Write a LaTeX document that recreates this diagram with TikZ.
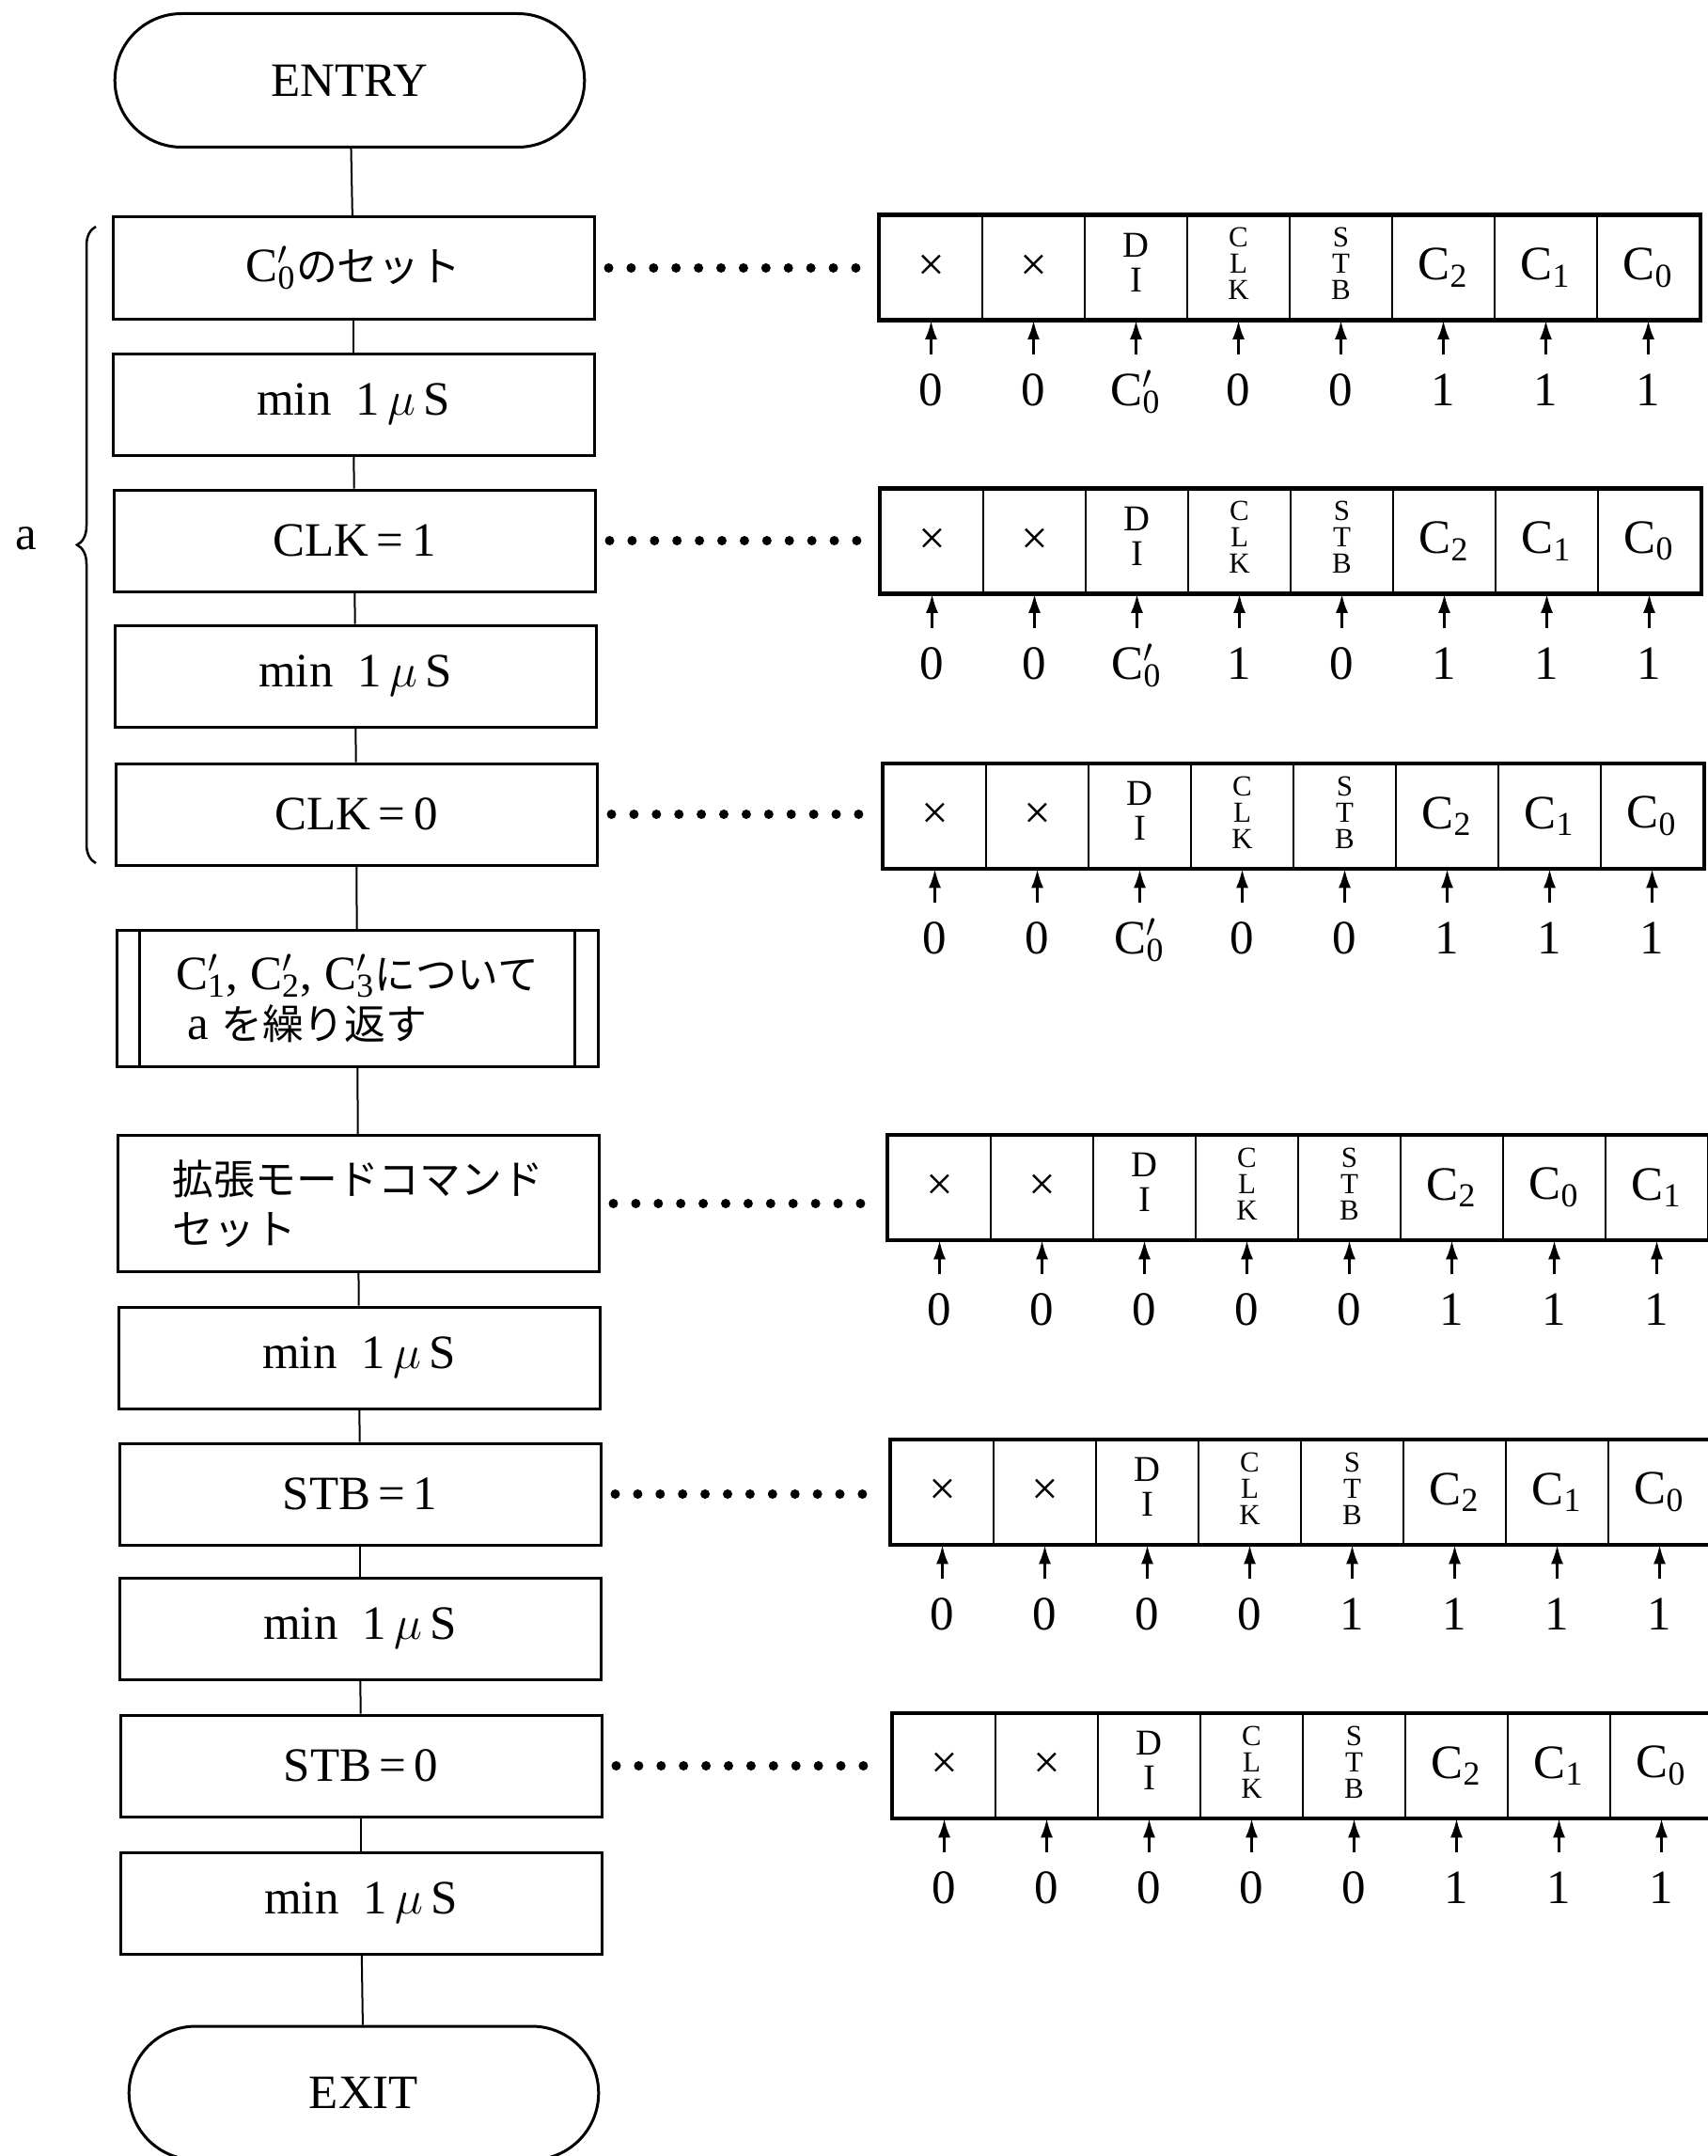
\documentclass[tikz,border=0pt]{standalone}
\usepackage{fontspec}
\setmainfont{Liberation Serif}
\newfontfamily\jpfont[Scale=0.86]{Noto Sans CJK JP}
\usetikzlibrary{arrows.meta, shapes.misc, decorations.pathreplacing, positioning}

\newcommand{\Cpr}[1]{C\rlap{$'$}\textsubscript{#1}}
\newcommand{\stacklbl}[3]{{\fontsize{#1}{#2}\selectfont\begin{tabular}{@{}c@{}}#3\end{tabular}}}
\newcommand{\DIlbl}{\stacklbl{11}{10.5}{D\\I}}
\newcommand{\CLKlbl}{\stacklbl{8.8}{7.4}{C\\L\\K}}
\newcommand{\STBlbl}{\stacklbl{8.8}{7.4}{S\\T\\B}}

\begin{document}
\begin{tikzpicture}[
    x=1mm, y=-1mm,
    every node/.style={font=\fontsize{14.5}{17}\selectfont},
    terminal/.style={draw, line width=0.3mm, rounded rectangle, minimum width=52.3mm, minimum height=14.2mm},
    process/.style={draw, line width=0.3mm, minimum width=51.2mm, minimum height=10.8mm, inner sep=1mm},
    twoline/.style={process, minimum height=14.5mm, align=left, font=\fontsize{14.5}{15}\selectfont},
    flow/.style={line width=0.2mm},
    dotline/.style={line width=1mm, line cap=round, dash pattern=on 0pt off 2.39mm, shorten <=1.4mm, shorten >=2mm},
    cell/.style={draw, line width=0.25mm, minimum width=10.9mm, minimum height=11mm, inner sep=0pt, align=center},
    val/.style={inner sep=0pt, text height=3.4mm, text depth=0pt},
    pin-arrow/.style={-{Latex[length=2mm, width=1.3mm]}, line width=0.25mm, shorten <=2mm}
]
    \useasboundingbox (0,0) rectangle (181.6,229.3);

    % Flowchart column (the scan leans a little to the right).
    \node[terminal] (entry) at (37.2,8.55) {ENTRY};
    \node[process] (b1) at (37.6,28.5) {\Cpr{0}{\jpfont のセット}};
    \node[process] (b2) at (37.6,43.0) {min\enspace 1\,$\mu$\,S};
    \node[process] (b3) at (37.7,57.5) {CLK\,=\,1};
    \node[process] (b4) at (37.8,71.9) {min\enspace 1\,$\mu$\,S};
    \node[process] (b5) at (37.9,86.6) {CLK\,=\,0};
    \node[twoline] (b6) at (38.0,106.2) {\Cpr{1}, \Cpr{2}, \Cpr{3}{\jpfont について}\\\ a {\jpfont を繰り返す}};
    \draw[line width=0.3mm] ([xshift=2.6mm]b6.north west) -- ([xshift=2.6mm]b6.south west);
    \draw[line width=0.3mm] ([xshift=-2.6mm]b6.north east) -- ([xshift=-2.6mm]b6.south east);
    \node[twoline] (b7) at (38.1,128.0) {{\jpfont 拡張モードコマンド}\\{\jpfont セット}};
    \node[process] (b8) at (38.2,144.4) {min\enspace 1\,$\mu$\,S};
    \node[process] (b9) at (38.3,158.9) {STB\,=\,1};
    \node[process] (b10) at (38.3,173.2) {min\enspace 1\,$\mu$\,S};
    \node[process] (b11) at (38.4,187.8) {STB\,=\,0};
    \node[process] (b12) at (38.4,202.4) {min\enspace 1\,$\mu$\,S};
    \node[terminal] (exit) at (38.7,222.6) {EXIT};

    \foreach \a/\b in {entry/b1, b1/b2, b2/b3, b3/b4, b4/b5, b5/b6, b6/b7,
                       b7/b8, b8/b9, b9/b10, b10/b11, b11/b12, b12/exit}
        \draw[flow] (\a) -- (\b);

    % Brace over the repeated steps.
    \draw[line width=0.25mm, decorate, decoration={brace, amplitude=2mm}] (10.2,91.8) -- (10.2,24.1);
    \node (lbl-a) at (2.8,57.3) {a};

    % Port registers: row / centre y / left x / box / last two bits.
    \foreach \r/\yc/\lx/\bx/\cA/\cB in {1/28.46/93.6/b1/1/0, 2/57.55/93.7/b3/1/0,
                                        3/86.8/94.0/b5/1/0, 4/126.3/94.5/b7/0/1,
                                        5/158.7/94.8/b9/1/0, 6/187.8/95.0/b11/1/0}{
        \foreach \lbl [count=\n] in {\texttimes, \texttimes, \DIlbl, \CLKlbl, \STBlbl,
                                     C\textsubscript{2}, C\textsubscript{\cA}, C\textsubscript{\cB}}
            \node[cell] (r\r-\n) at ({\lx+(\n-0.5)*10.9}, \yc) {\lbl};
        \draw[line width=0.4mm] (r\r-1.north west) rectangle (r\r-8.south east);
        \draw[dotline] (\bx.east) -- (\bx.east -| r\r-1.west);
    }

    % Bit values written to the port.
    \foreach \v [count=\n] in {0,0,\Cpr{0},0,0,1,1,1}
        \node[val, below=5.6mm of r1-\n] (v1-\n) {\v};
    \foreach \v [count=\n] in {0,0,\Cpr{0},1,0,1,1,1}
        \node[val, below=5.6mm of r2-\n] (v2-\n) {\v};
    \foreach \v [count=\n] in {0,0,\Cpr{0},0,0,1,1,1}
        \node[val, below=5.6mm of r3-\n] (v3-\n) {\v};
    \foreach \v [count=\n] in {0,0,0,0,0,1,1,1}
        \node[val, below=5.6mm of r4-\n] (v4-\n) {\v};
    \foreach \v [count=\n] in {0,0,0,0,1,1,1,1}
        \node[val, below=5.6mm of r5-\n] (v5-\n) {\v};
    \foreach \v [count=\n] in {0,0,0,0,0,1,1,1}
        \node[val, below=5.6mm of r6-\n] (v6-\n) {\v};

    \foreach \r in {1,...,6}
        \foreach \n in {1,...,8}
            \draw[pin-arrow] (v\r-\n) -- (r\r-\n);
\end{tikzpicture}
\end{document}
